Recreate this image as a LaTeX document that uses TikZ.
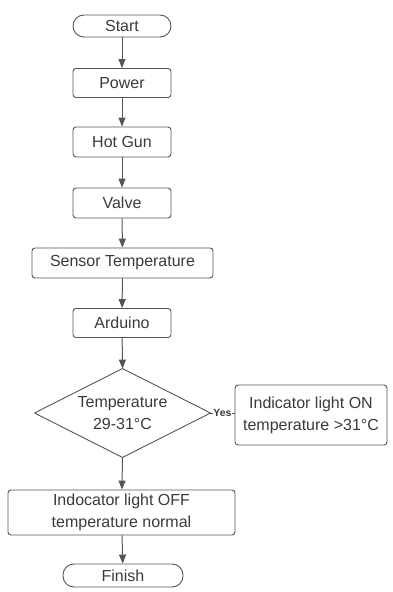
\documentclass[tikz,border=0pt]{standalone}
\usepackage{fontspec}
\setmainfont{Liberation Sans}
\usetikzlibrary{arrows.meta}
\definecolor{linec}{HTML}{555555}
\definecolor{txt}{HTML}{3A3A3A}
\begin{document}
\begin{tikzpicture}[x=1pt,y=-1pt,
 box/.style={draw=linec, line width=0.9pt, rounded corners=3pt, text=txt,
   font=\fontsize{16}{22}\selectfont, align=center, inner sep=0pt},
 term/.style={box, rounded corners=11pt},
 arr/.style={draw=linec, line width=1pt, -{Triangle[length=9pt,width=7pt]}},
 lbl/.style={text=txt, font=\bfseries\fontsize{10.5}{11}\selectfont, inner sep=0.3pt, fill=white}
]
\useasboundingbox (0,0) rectangle (393,592);
\node[term, minimum width=98pt, minimum height=22pt] (start) at (122,26) {Start};
\node[box, minimum width=98pt, minimum height=29pt] (power) at (122,83) {Power};
\node[box, minimum width=98pt, minimum height=30pt] (hotgun) at (122,142) {Hot Gun};
\node[box, minimum width=98pt, minimum height=30pt] (valve) at (122,203) {Valve};
\node[box, minimum width=181pt, minimum height=30pt] (sensor) at (122.5,263) {Sensor Temperature};
\node[box, minimum width=98pt, minimum height=29pt] (arduino) at (122,323) {Arduino};
\node[box, draw=none, minimum width=175pt, minimum height=88pt] (dec) at (122.5,413) {Temperature\\29-31°C};
\draw[linec, line width=0.9pt] (dec.north) -- (dec.east) -- (dec.south) -- (dec.west) -- cycle;
\node[box, minimum width=152pt, minimum height=60pt] (on) at (311,415) {Indicator light ON\\temperature >31°C};
\node[box, minimum width=227pt, minimum height=45pt] (off) at (121.5,512.5) {Indocator light OFF\\temperature normal};
\node[term, minimum width=120pt, minimum height=23pt] (finish) at (123,575.5) {Finish};
\draw[arr] (start) -- (power);
\draw[arr] (power) -- (hotgun);
\draw[arr] (hotgun) -- (valve);
\draw[arr] (valve) -- (sensor);
\draw[arr] (sensor) -- (arduino);
\draw[arr] (arduino) -- (dec.north);
\draw[arr] (dec.south) -- (off);
\draw[arr] (off) -- (finish);
\draw[linec, line width=0.9pt] (dec.east) -- node[lbl] (yes) {Yes} (on.west |- dec.east);
\end{tikzpicture}
\end{document}
